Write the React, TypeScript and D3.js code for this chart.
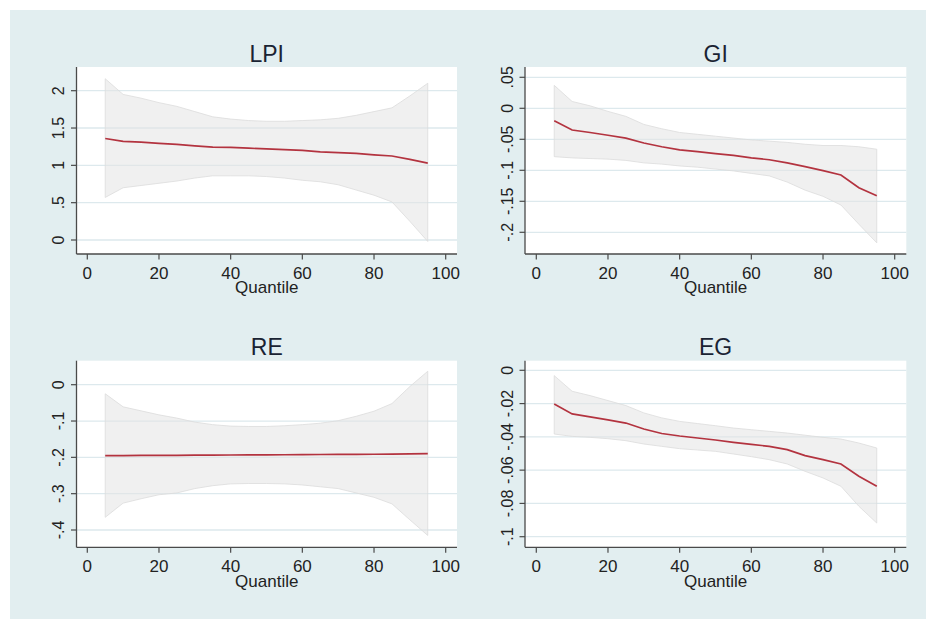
import React from "react";
import * as d3 from "d3";

const quantiles = [5, 10, 15, 20, 25, 30, 35, 40, 45, 50, 55, 60, 65, 70, 75, 80, 85, 90, 95];
const xTicks = [0, 20, 40, 60, 80, 100];

const lpiCoef = [1.36, 1.32, 1.31, 1.295, 1.28, 1.26, 1.245, 1.24, 1.23, 1.22, 1.21, 1.2, 1.18, 1.17, 1.16, 1.14, 1.125, 1.08, 1.03];
const lpiUpper = [2.16, 1.95, 1.9, 1.84, 1.79, 1.72, 1.65, 1.62, 1.6, 1.59, 1.59, 1.6, 1.61, 1.63, 1.67, 1.72, 1.77, 1.93, 2.1];
const lpiLower = [0.57, 0.7, 0.73, 0.76, 0.79, 0.83, 0.86, 0.86, 0.86, 0.85, 0.83, 0.8, 0.78, 0.74, 0.67, 0.6, 0.51, 0.25, -0.02];
const lpiTicks = [0, 0.5, 1, 1.5, 2];
const lpiTickLabels = ["0", ".5", "1", "1.5", "2"];

const giCoef = [-0.02, -0.035, -0.039, -0.0435, -0.048, -0.056, -0.062, -0.067, -0.07, -0.073, -0.076, -0.08, -0.083, -0.088, -0.094, -0.1005, -0.1075, -0.128, -0.141];
const giUpper = [0.037, 0.011, 0.004, -0.005, -0.013, -0.026, -0.033, -0.039, -0.042, -0.045, -0.048, -0.051, -0.053, -0.055, -0.058, -0.06, -0.06, -0.062, -0.066];
const giLower = [-0.078, -0.08, -0.081, -0.082, -0.084, -0.088, -0.09, -0.093, -0.095, -0.098, -0.101, -0.105, -0.109, -0.119, -0.132, -0.142, -0.156, -0.187, -0.217];
const giTicks = [0.05, 0, -0.05, -0.1, -0.15, -0.2];
const giTickLabels = [".05", "0", "-.05", "-.1", "-.15", "-.2"];

const reCoef = [-0.195, -0.195, -0.1948, -0.1945, -0.1943, -0.194, -0.1938, -0.1935, -0.1933, -0.193, -0.1928, -0.1925, -0.1922, -0.192, -0.1917, -0.1914, -0.191, -0.1905, -0.19];
const reUpper = [-0.025, -0.061, -0.072, -0.083, -0.092, -0.103, -0.11, -0.114, -0.115, -0.115, -0.113, -0.11, -0.106, -0.099, -0.087, -0.073, -0.052, -0.005, 0.037];
const reLower = [-0.365, -0.326, -0.314, -0.303, -0.298, -0.286, -0.278, -0.273, -0.272, -0.272, -0.273, -0.276, -0.281, -0.286, -0.298, -0.31, -0.328, -0.372, -0.415];
const reTicks = [0, -0.1, -0.2, -0.3, -0.4];
const reTickLabels = ["0", "-.1", "-.2", "-.3", "-.4"];

const egCoef = [-0.0202, -0.0262, -0.028, -0.0298, -0.0317, -0.0353, -0.038, -0.0395, -0.0407, -0.0419, -0.0433, -0.0445, -0.0457, -0.0477, -0.0513, -0.0537, -0.0563, -0.0637, -0.0697];
const egUpper = [-0.0032, -0.0126, -0.0152, -0.0182, -0.0212, -0.0256, -0.0286, -0.0307, -0.032, -0.0333, -0.0347, -0.0357, -0.0367, -0.0377, -0.039, -0.0403, -0.0413, -0.0437, -0.0467];
const egLower = [-0.0383, -0.0397, -0.0403, -0.0411, -0.0423, -0.0443, -0.0457, -0.0471, -0.0479, -0.0487, -0.0503, -0.0519, -0.0537, -0.0563, -0.0607, -0.0647, -0.0697, -0.0817, -0.0918];
const egTicks = [0, -0.02, -0.04, -0.06, -0.08, -0.1];
const egTickLabels = ["0", "-.02", "-.04", "-.06", "-.08", "-.1"];

const FONT = "'Liberation Sans', Arial, sans-serif";
const LINE_COLOR = "#b3333f";
const GRID_COLOR = "#dde9ed";
const AXIS_COLOR = "#4a4a4a";
const BG = "#e2eef0";

type PanelProps = {
  title: string;
  coef: number[];
  upper: number[];
  lower: number[];
  ticks: number[];
  tickLabels: string[];
  left: number;
  right: number;
  top: number;
  bottom: number;
  x0: number;
  x100: number;
  yDomain: [number, number];
  yRange: [number, number];
};

function Panel(p: PanelProps) {
  const x = d3.scaleLinear().domain([0, 100]).range([p.x0, p.x100]);
  const y = d3.scaleLinear().domain(p.yDomain).range(p.yRange);
  const rows = quantiles.map((q, i) => ({ q, c: p.coef[i], u: p.upper[i], l: p.lower[i] }));
  const area = d3
    .area<any>()
    .x((d) => x(d.q))
    .y0((d) => y(d.l))
    .y1((d) => y(d.u));
  const line = d3
    .line<any>()
    .x((d) => x(d.q))
    .y((d) => y(d.c));
  const cx = (p.left + p.right) / 2;
  return (
    <g>
      <rect x={p.left} y={p.top} width={p.right - p.left} height={p.bottom - p.top} fill="#ffffff" />
      {p.ticks.map((t) => (
        <line key={"g" + t} x1={p.left} x2={p.right} y1={y(t)} y2={y(t)} stroke={GRID_COLOR} strokeWidth={1.3} />
      ))}
      <path d={area(rows) || ""} fill="#e4e4e4" fillOpacity={0.55} stroke="#dcdcdc" strokeWidth={0.8} />
      <path d={line(rows) || ""} fill="none" stroke={LINE_COLOR} strokeWidth={1.7} />
      <line x1={p.left} x2={p.left} y1={p.top} y2={p.bottom} stroke={AXIS_COLOR} strokeWidth={1.3} />
      <line x1={p.left} x2={p.right} y1={p.bottom} y2={p.bottom} stroke={AXIS_COLOR} strokeWidth={1.3} />
      {p.ticks.map((t, i) => (
        <g key={"y" + t}>
          <line x1={p.left - 5.5} x2={p.left} y1={y(t)} y2={y(t)} stroke={AXIS_COLOR} strokeWidth={1.2} />
          <text
            transform={`translate(${p.left - 12.5},${y(t)}) rotate(-90)`}
            textAnchor="middle"
            fontFamily={FONT}
            fontSize={16}
            fill="#222"
          >
            {p.tickLabels[i]}
          </text>
        </g>
      ))}
      {xTicks.map((t) => (
        <g key={"x" + t}>
          <line x1={x(t)} x2={x(t)} y1={p.bottom} y2={p.bottom + 5.5} stroke={AXIS_COLOR} strokeWidth={1.2} />
          <text x={x(t)} y={p.bottom + 25} textAnchor="middle" fontFamily={FONT} fontSize={17} fill="#222">
            {t}
          </text>
        </g>
      ))}
      <text x={cx} y={p.bottom + 39.3} textAnchor="middle" fontFamily={FONT} fontSize={17} fill="#222">
        Quantile
      </text>
      <text x={cx} y={p.top - 5.3} textAnchor="middle" fontFamily={FONT} fontSize={23} fill="#1a2333">
        {p.title}
      </text>
    </g>
  );
}

export default function App() {
  return (
    <svg
      width={926}
      height={619}
      style={{ position: "absolute", left: 0, top: 0, display: "block", background: "#ffffff" }}
    >
      <rect x={10} y={10} width={916} height={609} fill={BG} />
      <Panel
        title="LPI"
        coef={lpiCoef}
        upper={lpiUpper}
        lower={lpiLower}
        ticks={lpiTicks}
        tickLabels={lpiTickLabels}
        left={76.5}
        right={457}
        top={67}
        bottom={254}
        x0={87.3}
        x100={445.7}
        yDomain={[0, 2]}
        yRange={[240, 90.7]}
      />
      <Panel
        title="GI"
        coef={giCoef}
        upper={giUpper}
        lower={giLower}
        ticks={giTicks}
        tickLabels={giTickLabels}
        left={525}
        right={906.3}
        top={67}
        bottom={254}
        x0={536.3}
        x100={894.7}
        yDomain={[0.05, -0.2]}
        yRange={[77.3, 232.3]}
      />
      <Panel
        title="RE"
        coef={reCoef}
        upper={reUpper}
        lower={reLower}
        ticks={reTicks}
        tickLabels={reTickLabels}
        left={76.5}
        right={457}
        top={360.7}
        bottom={547.3}
        x0={87.3}
        x100={445.7}
        yDomain={[0, -0.4]}
        yRange={[384.7, 530]}
      />
      <Panel
        title="EG"
        coef={egCoef}
        upper={egUpper}
        lower={egLower}
        ticks={egTicks}
        tickLabels={egTickLabels}
        left={525}
        right={906.3}
        top={360.7}
        bottom={547.3}
        x0={536.3}
        x100={894.7}
        yDomain={[0, -0.1]}
        yRange={[370.3, 536.7]}
      />
    </svg>
  );
}
